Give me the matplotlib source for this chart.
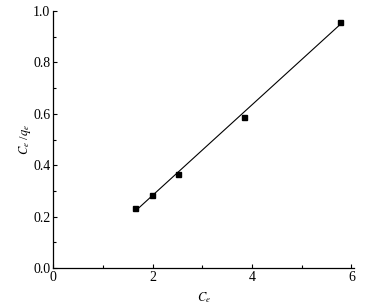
import numpy as np
import matplotlib
matplotlib.use('Agg')
import matplotlib.pyplot as plt
from matplotlib.ticker import MultipleLocator

plt.rcParams['font.family'] = 'Liberation Serif'
plt.rcParams['mathtext.fontset'] = 'stix'

ce = [1.65, 1.99, 2.52, 3.83, 5.76]
ce_qe = [0.232, 0.284, 0.366, 0.588, 0.956]

fig = plt.figure(figsize=(3.66, 3.08), dpi=100)
ax = fig.add_axes([0.145, 0.13, 0.822, 0.834])

# linear fit line over the data range
k, b = np.polyfit(ce, ce_qe, 1)
xs = np.array([min(ce), max(ce)])
ax.plot(xs, k*xs + b, color='black', lw=0.8)
ax.plot(ce, ce_qe, 's', color='black', ms=3.6)

ax.set_xlim(0, 6.05)
ax.set_ylim(0, 1.0)
ax.xaxis.set_major_locator(MultipleLocator(2))
ax.xaxis.set_minor_locator(MultipleLocator(1))
ax.yaxis.set_minor_locator(MultipleLocator(0.1))
ax.set_yticks(np.arange(0, 1.01, 0.2))
ax.set_yticklabels(['0.0', '0.2', '0.4', '0.6', '0.8', '1.0'])
ax.tick_params(which='both', direction='in', labelsize=10, width=0.8, pad=2)
ax.tick_params(which='major', length=3)
ax.tick_params(which='minor', length=2)
ax.spines['top'].set_visible(False)
ax.spines['right'].set_visible(False)
for s in ['left', 'bottom']:
    ax.spines[s].set_linewidth(0.9)

ax.set_xlabel('$C_e$', fontsize=9, labelpad=5)
ax.set_ylabel('$C_e$ /$q_e$', fontsize=9)
ax.yaxis.set_label_coords(-0.068, 0.5)

fig.savefig('out.png', dpi=100)
